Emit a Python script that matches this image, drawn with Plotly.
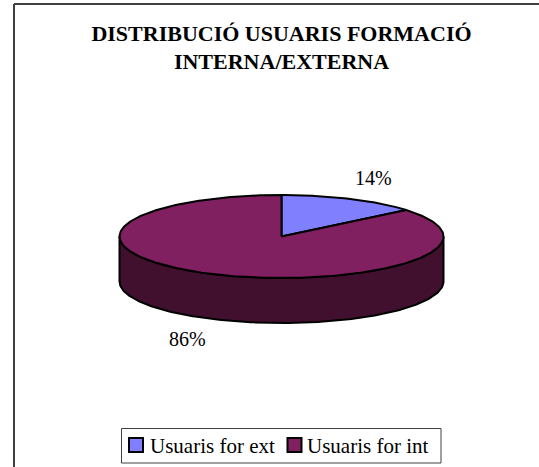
import numpy as np
import plotly.graph_objects as go

LABELS = ["Usuaris for ext", "Usuaris for int"]
VALUES = [14, 86]
PERCENT_LABELS = ["14%", "86%"]
TITLE_TEXT = "<b>DISTRIBUCIÓ USUARIS FORMACIÓ<br>INTERNA/EXTERNA</b>"

TOP_COLORS = ["#8080ff", "#802060"]
WALL_COLOR = "#40102e"
EDGE = "#000000"
FONT = "Liberation Serif"

# pie geometry, in page pixels
CX, CY = 281.5, 236.5
RX, RY = 162, 41.5
DEPTH = 45

# legend placement, in page pixels
SWATCH_X = [136, 294.5]
LABEL_X = [149, 306]
LEGEND_Y = 446


def rim(start, end):
    angles = np.linspace(start, end, max(int(abs(end - start) * 60), 2))
    return CX + RX * np.sin(angles), CY - RY * np.cos(angles)


shares = np.cumsum([0] + VALUES) / sum(VALUES) * 2 * np.pi

fig = go.Figure()

# visible wall of the disc, only the front half
wall_x, wall_y = rim(np.pi / 2, 3 * np.pi / 2)
fig.add_trace(
    go.Scatter(
        x=np.concatenate([wall_x, wall_x[::-1], wall_x[:1]]),
        y=np.concatenate([wall_y, wall_y[::-1] + DEPTH, wall_y[:1]]),
        mode="lines",
        fill="toself",
        fillcolor=WALL_COLOR,
        line={"color": EDGE, "width": 2},
        hoverinfo="skip",
        showlegend=False,
    )
)

for index, label in enumerate(LABELS):
    rim_x, rim_y = rim(shares[index], shares[index + 1])
    fig.add_trace(
        go.Scatter(
            x=np.concatenate([[CX], rim_x, [CX]]),
            y=np.concatenate([[CY], rim_y, [CY]]),
            mode="lines",
            fill="toself",
            fillcolor=TOP_COLORS[index],
            line={"color": EDGE, "width": 2},
            name=label,
            showlegend=False,
        )
    )
    # legend swatch and label, drawn by hand to keep them tight
    fig.add_trace(
        go.Scatter(
            x=[SWATCH_X[index]],
            y=[LEGEND_Y - 1],
            mode="markers",
            name=label,
            showlegend=False,
            hoverinfo="skip",
            marker={
                "symbol": "square",
                "size": 14,
                "color": TOP_COLORS[index],
                "line": {"color": EDGE, "width": 2},
            },
        )
    )
    fig.add_annotation(
        x=LABEL_X[index],
        y=LEGEND_Y,
        text=label,
        showarrow=False,
        xanchor="left",
        xshift=-1,
        font={"size": 21},
    )

fig.add_annotation(x=373, y=178, text=PERCENT_LABELS[0], showarrow=False)
fig.add_annotation(x=187, y=339, text=PERCENT_LABELS[1], showarrow=False)

fig.update_layout(
    width=539,
    height=467,
    margin={"l": 0, "r": 0, "t": 0, "b": 0},
    paper_bgcolor="white",
    plot_bgcolor="white",
    font={"family": FONT, "size": 20, "color": "#000000"},
    title={
        "text": TITLE_TEXT,
        "font": {"family": FONT, "size": 22, "color": "#000000"},
        "x": 281.5 / 539,
        "xanchor": "center",
        "y": 1 - 40.5 / 467,
        "yanchor": "middle",
    },
    showlegend=False,
    xaxis={"range": [0, 539], "visible": False, "fixedrange": True},
    yaxis={"range": [467, 0], "visible": False, "fixedrange": True},
)
# chart frame runs off the right and bottom of the picture
fig.add_shape(
    type="line", xref="x", yref="y", x0=14, y0=4, x1=539, y1=4,
    line={"color": "#000000", "width": 1.5},
)
fig.add_shape(
    type="line", xref="x", yref="y", x0=14, y0=4, x1=14, y1=467,
    line={"color": "#404040", "width": 2},
)
fig.add_shape(
    type="rect", xref="x", yref="y", x0=121.5, y0=428.5, x1=441, y1=463,
    line={"color": "#404040", "width": 1},
)

fig.write_html(
    "out.html",
    config={"displayModeBar": False},
    post_script="document.body.style.margin = '0';",
)
